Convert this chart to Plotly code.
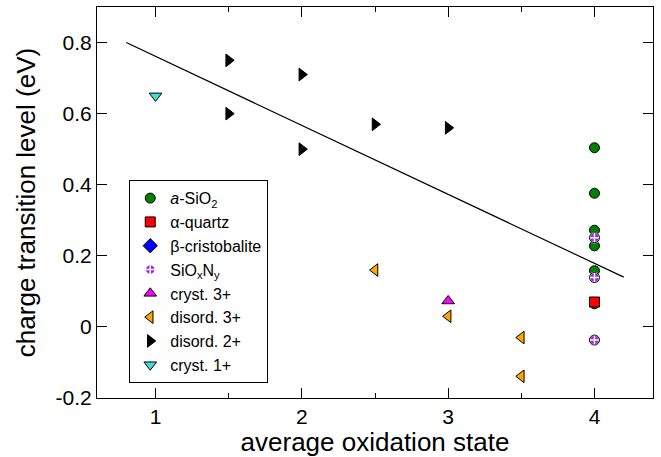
import plotly.graph_objects as go

# ---- data ----
fit_x = [0.8, 4.2]
fit_y = [0.80, 0.14]

asio2_x = [4, 4, 4, 4, 4, 4]
asio2_y = [0.504, 0.376, 0.272, 0.228, 0.158, 0.065]

quartz_x = [4]
quartz_y = [0.070]

cristo_x = [4]
cristo_y = [0.070]

sioxny_x = [4, 4, 4]
sioxny_y = [0.251, 0.139, -0.037]

cryst3_x = [3]
cryst3_y = [0.073]

disord3_x = [2.5, 3, 3.5, 3.5]
disord3_y = [0.16, 0.030, -0.030, -0.139]

disord2_x = [1.5, 1.5, 2, 2, 2.5, 3]
disord2_y = [0.75, 0.60, 0.71, 0.50, 0.57, 0.56]

cryst1_x = [1]
cryst1_y = [0.65]

ytick_vals = [-0.2, 0, 0.2, 0.4, 0.6, 0.8]
ytick_text = ["-0.2", "0", "0.2", "0.4", "0.6", "0.8"]
xtick_vals = [1, 2, 3, 4]
xtick_text = ["1", "2", "3", "4"]

FONT = "Liberation Sans, Arial, Helvetica, sans-serif"

fig = go.Figure()

fig.add_trace(go.Scatter(x=fit_x, y=fit_y, mode="lines",
                         line=dict(color="black", width=1.2), showlegend=False,
                         hoverinfo="skip"))

def mk(symbol, color, size=10):
    return dict(symbol=symbol, color=color, size=size,
                line=dict(color="black", width=1))

fig.add_trace(go.Scatter(x=asio2_x, y=asio2_y, mode="markers",
                         name="<i>a</i>-SiO<sub>2</sub>",
                         marker=mk("circle", "#008000", 10), legendrank=1))
# beta-cristobalite point is hidden behind the alpha-quartz square
fig.add_trace(go.Scatter(x=cristo_x, y=cristo_y, mode="markers",
                         name="β-cristobalite", legendgroup="cristo",
                         showlegend=False,
                         marker=mk("diamond", "#0000ff", 7)))
fig.add_trace(go.Scatter(x=[None], y=[None], mode="markers",
                         name="β-cristobalite", legendgroup="cristo",
                         marker=mk("diamond", "#0000ff", 11), legendrank=3))
fig.add_trace(go.Scatter(x=quartz_x, y=quartz_y, mode="markers",
                         name="α-quartz",
                         marker=mk("square", "#ff0000", 10), legendrank=2))
fig.add_trace(go.Scatter(x=sioxny_x, y=sioxny_y, mode="markers",
                         name="SiO<sub>x</sub>N<sub>y</sub>",
                         marker=dict(symbol="circle-cross", color="#a020f0", size=10,
                                     line=dict(color="white", width=1.5)),
                         legendrank=4))
fig.add_trace(go.Scatter(x=sioxny_x, y=sioxny_y, mode="markers",
                         showlegend=False, hoverinfo="skip",
                         marker=dict(symbol="circle-open", color="black", size=10,
                                     line=dict(color="black", width=1))))
fig.add_trace(go.Scatter(x=cryst3_x, y=cryst3_y, mode="markers",
                         name="cryst. 3+",
                         marker=mk("triangle-up", "#ff00ff", 11), legendrank=5))
fig.add_trace(go.Scatter(x=disord3_x, y=disord3_y, mode="markers",
                         name="disord. 3+",
                         marker=mk("triangle-left", "#ffa500", 11), legendrank=6))
fig.add_trace(go.Scatter(x=disord2_x, y=disord2_y, mode="markers",
                         name="disord. 2+",
                         marker=mk("triangle-right", "#000000", 11), legendrank=7))
fig.add_trace(go.Scatter(x=cryst1_x, y=cryst1_y, mode="markers",
                         name="cryst. 1+",
                         marker=mk("triangle-down", "#40e0d0", 11), legendrank=8))

axis_common = dict(
    showline=True, linecolor="black", linewidth=1.2, mirror="allticks",
    ticks="inside", ticklen=10, tickwidth=1.2, tickcolor="black",
    showgrid=False, zeroline=False,
    tickfont=dict(family=FONT, size=21, color="black"),
)

fig.update_xaxes(
    range=[0.6, 4.4], tickvals=xtick_vals, ticktext=xtick_text,
    minor=dict(tickvals=[1.5, 2.5, 3.5], ticks="inside", ticklen=5,
               tickwidth=1.2, tickcolor="black"),
    title=dict(text="average oxidation state",
               font=dict(family=FONT, size=26, color="black"), standoff=2),
    **axis_common)
fig.update_yaxes(
    range=[-0.2, 0.9], tickvals=ytick_vals, ticktext=ytick_text,
    title=dict(text="charge transition level (eV)",
               font=dict(family=FONT, size=26, color="black"), standoff=12),
    **axis_common)

fig.update_layout(
    width=661, height=457,
    margin=dict(l=97, r=8, t=7, b=59),
    paper_bgcolor="white", plot_bgcolor="white",
    font=dict(family=FONT, color="black"),
    legend=dict(x=0.058, y=0.557, xanchor="left", yanchor="top",
                bordercolor="black", borderwidth=1, bgcolor="white",
                font=dict(family=FONT, size=16, color="black"),
                itemwidth=30, tracegroupgap=0),
)

fig.write_html("out.html")
